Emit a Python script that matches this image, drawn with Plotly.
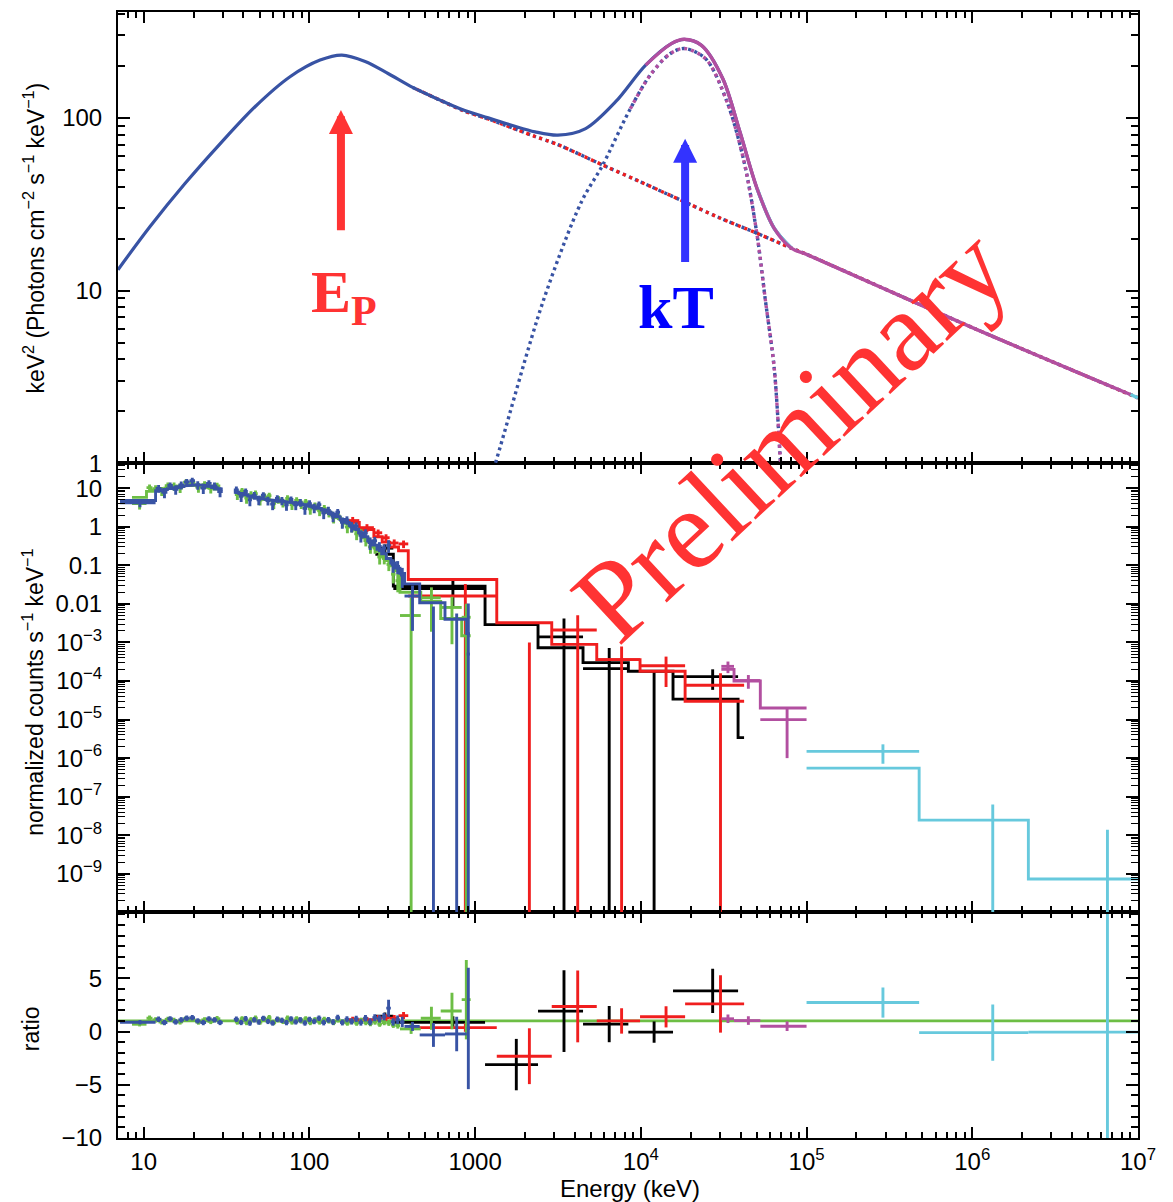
import math
import plotly.graph_objects as go

# ---------------------------------------------------------------------------
# Top panel: unfolded nuFnu model, keV^2 (photons cm^-2 s^-1 keV^-1)
# ---------------------------------------------------------------------------
model_kev = [7, 10.9, 17.7, 28.9, 47, 76.4, 116, 157, 217, 300, 420, 600, 850, 1200, 1700,
             2300, 3157, 4645, 7046, 10690, 15280, 18270, 23200, 31190, 39600, 50250, 63800,
             80900, 1.0e5, 1.0e6, 9.0e6, 1.0e7]
model_total = [13.2, 23.4, 41.5, 70.7, 116, 173, 216, 231, 212, 180, 150, 128, 111, 100, 90,
               83, 79.4, 86.7, 124, 202, 269, 285, 263, 169, 83, 39, 22.9, 17.6, 16.2, 6.1,
               2.5, 2.39]

# Band component (continues as the high-energy power law)
band_kev = [420, 600, 850, 1200, 1700, 2300, 3157, 5890, 10000, 18240, 30000, 50000, 80900,
            1.0e5, 1.0e6, 1.0e7]
band_vals = [150, 128, 110, 98.5, 87, 78, 70, 53.3, 42.5, 32.7, 26.3, 21.5, 17.6, 16.2, 6.1,
             2.39]

# thermal (blackbody) component
bb_kev = [1200, 1413, 2566, 4386, 5890, 8433, 11350, 15000, 18270, 24600, 33100, 41970,
          50250, 56600, 63800, 69700, 72000]
bb_vals = [0.72, 1.23, 8.6, 32.7, 53.3, 108, 176, 235, 252, 220, 124, 55.7, 21, 8.6, 3.56,
           1.0, 0.65]

EP_KEV = 155      # Band peak energy marker
KT_KEV = 18500    # blackbody peak marker

# ---------------------------------------------------------------------------
# Middle/bottom panels: folded counts (counts s^-1 keV^-1) per detector
# ---------------------------------------------------------------------------
# NaI detector (green)
nai_g_edges_low = [8.5, 10.4, 11.3, 12.3, 13.4, 14.6, 15.9, 17.3, 18.8, 20.5, 22.3, 24.3, 26.5, 29.0]
nai_g_model_low = [5.8, 8.3, 8.9, 9.5, 10.1, 10.8, 11.4, 11.9, 12.1, 11.9, 11.2, 10.4, 9.5]
nai_g_counts_low = [4.0, 10.4, 9.8, 8.55, 11.6, 11.3, 10.3, 14.3, 13.9, 10.7, 12.3, 9.9, 11.4]
nai_g_err_low = [1.2, 2.1, 2.2, 2.3, 2.5, 2.7, 2.8, 3.0, 3.0, 3.0, 2.8, 2.6, 2.4]
nai_g_edges_high = [35.5, 38, 40.5, 43, 45.8, 48.8, 52, 55.5, 59, 63, 67, 71.5, 76, 81, 86.5,
                    92, 98, 104.5, 111.5, 119, 127, 135.5, 144.5, 154, 164, 175, 186.5, 199,
                    212, 226, 241, 257, 274, 292, 311, 331, 352, 470, 620, 830, 940]
nai_g_model_high = [7.6, 7.05, 6.6, 6.15, 5.8, 5.5, 5.2, 4.95, 4.8, 4.65, 4.5, 4.35, 4.2, 4.0,
                    3.85, 3.65, 3.42, 3.17, 2.9, 2.62, 2.33, 2.04, 1.75, 1.48, 1.24, 1.02, 0.83,
                    0.66, 0.52, 0.40, 0.31, 0.235, 0.178, 0.133, 0.098, 0.072, 0.020, 0.0115,
                    0.0042, 0.0015]
nai_g_counts_high = [6.84, 8.46, 5.61, 6.77, 7.25, 4.95, 5.98, 6.44, 4.08, 5.12, 4.28, 5.44,
                     3.78, 4.8, 3.85, 4.38, 2.91, 3.49, 2.61, 3.01, 2.33, 1.73, 1.93, 1.33,
                     0.99, 0.97, 0.66, 0.69, 0.44, 0.30, 0.28, 0.165, 0.151, 0.106, 0.059,
                     0.040, 0.005, 0.0144, 0.0081, 0.0045]
nai_g_err_high = [1.9, 1.75, 1.65, 1.55, 1.45, 1.4, 1.3, 1.25, 1.2, 1.15, 1.1, 1.1, 1.05, 1.0,
                  0.95, 0.9, 0.85, 0.8, 0.72, 0.65, 0.58, 0.51, 0.44, 0.37, 0.31, 0.26, 0.21,
                  0.17, 0.13, 0.10, 0.08, 0.06, 0.045, 0.035, 0.025, 0.02, 0.0094, 0.0125,
                  0.0072, 0.0056]

# NaI detector (blue)
nai_b_edges_low = [7.2, 11.8, 12.8, 13.9, 15.0, 16.2, 17.5, 18.9, 20.4, 22.0, 23.8, 25.7, 27.8, 30.0]
nai_b_model_low = [4.8, 8.6, 9.2, 9.8, 10.4, 11.0, 11.6, 12.0, 12.2, 11.9, 11.2, 10.4, 9.6]
nai_b_counts_low = [4.2, 9.9, 7.8, 11.8, 9.4, 12.1, 14.5, 15.6, 12.2, 10.1, 13.4, 11.4, 8.2]
nai_b_err_low = [1.0, 2.2, 2.3, 2.4, 2.6, 2.8, 2.9, 3.0, 3.0, 3.0, 2.8, 2.6, 2.4]
nai_b_edges_high = [35, 37.5, 40, 42.5, 45, 48, 51, 54.5, 58, 62, 66, 70.5, 75, 80, 85.5, 91,
                    97, 103.5, 110.5, 118, 126, 134.5, 143.5, 153, 163, 174, 185.5, 198, 211,
                    225, 240, 256, 273, 291, 310, 330, 352, 375, 463, 658, 890, 930]
nai_b_model_high = [7.9, 7.3, 6.8, 6.3, 5.9, 5.6, 5.3, 5.05, 4.85, 4.7, 4.55, 4.4, 4.25, 4.1,
                    3.9, 3.72, 3.5, 3.25, 3.0, 2.72, 2.42, 2.12, 1.83, 1.55, 1.3, 1.07, 0.87,
                    0.70, 0.55, 0.43, 0.335, 0.26, 0.20, 0.15, 0.115, 0.085, 0.062, 0.033,
                    0.0107, 0.004, 0.0017]
nai_b_counts_high = [9.1, 6.2, 8.2, 5.0, 6.5, 5.0, 6.6, 4.8, 3.9, 5.4, 4.8, 3.7, 5.1, 3.7,
                     4.3, 3.0, 4.0, 3.1, 3.75, 2.3, 2.66, 1.9, 2.4, 1.32, 1.5, 1.02, 1.04,
                     0.6, 0.69, 0.39, 0.435, 0.31, 0.28, 0.33, 0.104, 0.094, 0.056, 0.016,
                     -0.0034, -0.0009, 0.0005]
nai_b_err_high = [2.0, 1.8, 1.7, 1.6, 1.5, 1.4, 1.3, 1.25, 1.2, 1.2, 1.15, 1.1, 1.05, 1.0,
                  1.0, 0.95, 0.9, 0.85, 0.78, 0.72, 0.65, 0.58, 0.5, 0.43, 0.37, 0.31, 0.26,
                  0.21, 0.17, 0.14, 0.11, 0.09, 0.07, 0.12, 0.04, 0.035, 0.03, 0.014, 0.012,
                  0.0065, 0.0097]

# BGO detector (black)
bgo_k_lo = [250, 321, 1148, 2397, 4479, 8409, 15640, 38620]
bgo_k_hi = [321, 1148, 2397, 4479, 8409, 15640, 38620, 41970]
bgo_k_model = [0.195, 0.029, 0.0029, 7.3e-4, 3.0e-4, 1.8e-4, 3.4e-5, 3.4e-6]
bgo_k_counts = [0.28, 0.025, -0.0090, 1.4e-3, 2.1e-4, -9e-6, 1.3e-4, None]
bgo_k_err = [0.07, 0.017, 0.0070, 2.8e-3, 5.1e-4, 1.8e-4, 7.1e-5, None]

# BGO detector (red)
bgo_r_lo = [165, 200, 245, 275, 305, 345, 395, 1351, 2900, 5420, 9890, 18500]
bgo_r_hi = [200, 245, 275, 305, 345, 395, 1351, 2900, 5420, 9890, 18500, 42000]
bgo_r_model = [1.3, 0.85, 0.55, 0.40, 0.30, 0.24, 0.043, 3.24e-3, 8.9e-4, 3.6e-4, 1.8e-4, 3.0e-5]
bgo_r_counts = [1.45, 0.95, 0.70, 0.52, 0.38, 0.36, 0.016, -7.5e-3, 2.1e-3, 3.6e-4, 2.5e-4, 7.8e-5]
bgo_r_err = [0.35, 0.22, 0.15, 0.12, 0.09, 0.08, 0.017, 8.5e-3, 3.0e-3, 4.3e-4, 1.8e-4, 8.1e-5]

# LAT low-energy events (magenta)
lle_lo = [30600, 36500, 52600]
lle_hi = [36500, 52600, 100000]
lle_model = [2.0e-4, 1.0e-4, 2.0e-5]
lle_counts = [2.4e-4, 1.03e-4, 1.0e-5]
lle_err = [0.8e-4, 0.4e-4, 0.9e-5]

# LAT (cyan)
lat_lo = [1.0e5, 4.78e5, 2.18e6]
lat_hi = [4.78e5, 2.18e6, 1.09e7]
lat_model = [5.5e-7, 2.46e-8, 7.3e-10]
lat_counts = [1.5e-6, -2.5e-9, -3.6e-11]
lat_err = [7.8e-7, 6.5e-8, 1.4e-8]

# axis tick labels
energy_ticks = [10, 100, 1000, 1e4, 1e5, 1e6, 1e7]
energy_ticktext = ["10", "100", "1000", "10<sup>4</sup>", "10<sup>5</sup>", "10<sup>6</sup>", "10<sup>7</sup>"]
nufnu_ticks = [1, 10, 100]
nufnu_ticktext = ["1", "10", "100"]
counts_ticks = [10, 1, 0.1, 0.01, 1e-3, 1e-4, 1e-5, 1e-6, 1e-7, 1e-8, 1e-9]
counts_ticktext = ["10", "1", "0.1", "0.01"] + ["10<sup>\u2212%d</sup>" % k for k in range(3, 10)]
ratio_ticks = [-10, -5, 0, 5]
ratio_ticktext = ["\u221210", "\u22125", "0", "5"]

# ---------------------------------------------------------------------------
BLACK = "#000000"
RED = "#F01E1E"
GREEN = "#6DBE45"
BLUE = "#3853A4"
MAGENTA = "#B24FA0"
CYAN = "#67C9DD"
NOTE_RED = "#FF3333"
NOTE_BLUE = "#3333FF"
SANS = "Liberation Sans, Arial, Helvetica, sans-serif"
SERIF = "Liberation Serif, Times New Roman, serif"

X_RANGE = [math.log10(7), 7]
LW = 2.9


def step_xy(lo, hi, mod):
    """Histogram outline of a binned model; gaps between bins break the line."""
    xs, ys = [], []
    for i, (l, h, m) in enumerate(zip(lo, hi, mod)):
        if i and l != hi[i - 1]:
            xs.append(None)
            ys.append(None)
        xs += [l, h]
        ys += [m, m]
    return xs, ys


def cross_xy(lo, hi, val, err, floor=None):
    """Data crosses: bin-width horizontal bar plus +/- error vertical bar."""
    xs, ys = [], []
    for l, h, v, e in zip(lo, hi, val, err):
        if v is None:
            continue
        xc = 0.5 * (l + h)
        top, bot = v + e, v - e
        if floor is not None:
            if v > 0:
                xs += [l, h, None]
                ys += [v, v, None]
            if top <= 0:
                continue
            if bot <= 0:
                bot = floor
        else:
            xs += [l, h, None]
            ys += [v, v, None]
        xs += [xc, xc, None]
        ys += [top, bot, None]
    return xs, ys


def bins(edges):
    return edges[:-1], edges[1:]


g_lo1, g_hi1 = bins(nai_g_edges_low)
g_lo2, g_hi2 = bins(nai_g_edges_high)
b_lo1, b_hi1 = bins(nai_b_edges_low)
b_lo2, b_hi2 = bins(nai_b_edges_high)

detectors = [
    dict(color=BLACK, lo=bgo_k_lo, hi=bgo_k_hi, model=bgo_k_model, counts=bgo_k_counts, err=bgo_k_err),
    dict(color=RED, lo=bgo_r_lo, hi=bgo_r_hi, model=bgo_r_model, counts=bgo_r_counts, err=bgo_r_err),
    dict(color=GREEN, lo=g_lo1 + g_lo2, hi=g_hi1 + g_hi2, model=nai_g_model_low + nai_g_model_high,
         counts=nai_g_counts_low + nai_g_counts_high, err=nai_g_err_low + nai_g_err_high),
    dict(color=BLUE, lo=b_lo1 + b_lo2, hi=b_hi1 + b_hi2, model=nai_b_model_low + nai_b_model_high,
         counts=nai_b_counts_low + nai_b_counts_high, err=nai_b_err_low + nai_b_err_high),
    dict(color=CYAN, lo=lat_lo, hi=lat_hi, model=lat_model, counts=lat_counts, err=lat_err),
    dict(color=MAGENTA, lo=lle_lo, hi=lle_hi, model=lle_model, counts=lle_counts, err=lle_err),
]

fig = go.Figure()

# ---------------- top panel ----------------
def add_top(x, y, color, width, dash=None):
    fig.add_trace(go.Scatter(x=x, y=y, mode="lines", xaxis="x3", yaxis="y3",
                             line=dict(color=color, width=width, dash=dash, shape="spline",
                                       smoothing=0.9),
                             hoverinfo="skip"))

# dotted components (two interleaved colours)
add_top(bb_kev, bb_vals, BLUE, 3.4, dash="3px,3.5px")
bb_hi = [(e, v) for e, v in zip(bb_kev, bb_vals) if e >= 8433]
add_top([p[0] for p in bb_hi], [p[1] for p in bb_hi], MAGENTA, 3.4, dash="0px,3.5px,3px,0.5px")
add_top(band_kev, band_vals, BLUE, 3.4, dash="3px,3.5px")
add_top(band_kev, band_vals, RED, 3.4, dash="0px,3.5px,3px,0.5px")

# total model, drawn per data group over its energy span
def total_between(lo, hi):
    pts = [(e, v) for e, v in zip(model_kev, model_total) if lo <= e <= hi]
    return [p[0] for p in pts], [p[1] for p in pts]

add_top(*total_between(7, 80900), BLUE, 3.2)
add_top(*total_between(50250, 80900), CYAN, 3.6)
add_top(*total_between(10690, 9.0e6), MAGENTA, 3.4)
add_top(*total_between(9.0e6, 1.0e7), CYAN, 3.4)

# ---------------- ratio reference line ----------------
fig.add_trace(go.Scatter(x=[7, 1e7], y=[1, 1], mode="lines", xaxis="x", yaxis="y",
                         line=dict(color=GREEN, width=LW), hoverinfo="skip"))

# ---------------- counts + ratio panels ----------------
for det in detectors:
    lo, hi, mod, cts, err, col = det["lo"], det["hi"], det["model"], det["counts"], det["err"], det["color"]
    sx, sy = step_xy(lo, hi, mod)
    fig.add_trace(go.Scatter(x=sx, y=sy, mode="lines", xaxis="x2", yaxis="y2",
                             line=dict(color=col, width=LW), hoverinfo="skip"))
    cx, cy = cross_xy(lo, hi, cts, err, floor=1e-13)
    fig.add_trace(go.Scatter(x=cx, y=cy, mode="lines", xaxis="x2", yaxis="y2",
                             line=dict(color=col, width=LW), hoverinfo="skip"))
    ratio = [None if c is None else c / m for c, m in zip(cts, mod)]
    rerr = [None if e is None else e / m for e, m in zip(err, mod)]
    rx, ry = cross_xy(lo, hi, ratio, rerr)
    fig.add_trace(go.Scatter(x=rx, y=ry, mode="lines", xaxis="x", yaxis="y",
                             line=dict(color=col, width=LW), hoverinfo="skip"))

# ---------------- axes ----------------
def log_minor(d0, d1):
    return [m * 10 ** d for d in range(d0, d1) for m in range(2, 10)]

frame = dict(showline=True, linewidth=2, linecolor="black", mirror="allticks",
             ticks="inside", tickwidth=2, tickcolor="black", showgrid=False, zeroline=False)
x_common = dict(frame, type="log", range=X_RANGE, ticklen=11, tickvals=energy_ticks,
                ticktext=energy_ticktext,
                minor=dict(ticks="inside", ticklen=6, tickwidth=1.6, tickcolor="black",
                           tickvals=[v for v in log_minor(0, 7) if v >= 7]))
tick_font = dict(family=SANS, size=24, color="black")
fig.update_layout(
    xaxis=dict(x_common, anchor="y", showticklabels=True, tickfont=tick_font,
               ticklabelstandoff=1),
    xaxis2=dict(x_common, anchor="y2", showticklabels=False),
    xaxis3=dict(x_common, anchor="y3", showticklabels=False),
    yaxis=dict(frame, domain=[0, 0.2004], range=[-10, 11.2], tickvals=ratio_ticks,
               ticktext=ratio_ticktext, ticklen=12, tickfont=tick_font, ticklabelstandoff=9,
               minor=dict(ticks="inside", ticklen=7, tickwidth=1.6, tickcolor="black",
                          tickvals=list(range(-10, 12)))),
    yaxis2=dict(frame, domain=[0.2004, 0.5993], type="log", range=[-10, 1.65],
                tickvals=counts_ticks, ticktext=counts_ticktext, ticklen=12,
                tickfont=tick_font, ticklabelstandoff=9,
                minor=dict(ticks="inside", ticklen=7, tickwidth=1.4, tickcolor="black",
                           tickvals=log_minor(-10, 2))),
    yaxis3=dict(frame, domain=[0.5993, 1.0], type="log", range=[0, 2.613],
                tickvals=nufnu_ticks, ticktext=nufnu_ticktext, ticklen=12,
                tickfont=tick_font, ticklabelstandoff=9,
                minor=dict(ticks="inside", ticklen=7, tickwidth=1.6, tickcolor="black",
                           tickvals=log_minor(0, 3))),
    width=1173, height=1202,
    margin=dict(l=118, r=35, t=10, b=64),
    paper_bgcolor="white", plot_bgcolor="white",
    showlegend=False, hovermode=False,
    font=dict(family=SANS, size=24, color="black"),
)

L = math.log10
title_font = dict(family=SANS, size=23, color="black")
annotations = [
    # axis titles
    dict(text="keV<sup>2</sup> (Photons cm<sup>\u22122</sup> s<sup>\u22121</sup> keV<sup>\u22121</sup>)",
         xref="paper", yref="paper", x=-0.0824, y=0.7996, xanchor="center", yanchor="middle",
         textangle=-90, showarrow=False, font=title_font),
    dict(text="normalized counts s<sup>\u22121</sup> keV<sup>\u22121</sup>",
         xref="paper", yref="paper", x=-0.0833, y=0.3954, xanchor="center", yanchor="middle",
         textangle=-90, showarrow=False, font=title_font),
    dict(text="ratio", xref="paper", yref="paper", x=-0.0853, y=0.0975, xanchor="center",
         yanchor="middle", textangle=-90, showarrow=False, font=title_font),
    dict(text="Energy (keV)", xref="paper", yref="paper", x=0.502, y=-0.0452,
         xanchor="center", yanchor="middle", showarrow=False,
         font=dict(family=SANS, size=24, color="black")),
    # peak-energy markers
    dict(text="", xref="x3", yref="y3", x=L(EP_KEV), y=2.046, axref="x3", ayref="y3",
         ax=L(EP_KEV), ay=1.341, showarrow=True, arrowhead=2, arrowsize=0.6, arrowwidth=8,
         arrowcolor=NOTE_RED, standoff=0, startstandoff=0),
    dict(text="<b>E<sub>P</sub></b>", xref="x3", yref="y3", x=2.209, y=0.965,
         xanchor="center", yanchor="middle", showarrow=False,
         font=dict(family=SERIF, size=60, color=NOTE_RED)),
    dict(text="", xref="x3", yref="y3", x=L(KT_KEV), y=1.879, axref="x3", ayref="y3",
         ax=L(KT_KEV), ay=1.156, showarrow=True, arrowhead=2, arrowsize=0.6, arrowwidth=8,
         arrowcolor=NOTE_BLUE, standoff=0, startstandoff=0),
    dict(text="<b>kT</b>", xref="x3", yref="y3", x=4.213, y=0.902, xanchor="center",
         yanchor="middle", showarrow=False, font=dict(family=SERIF, size=62, color="#0000FF")),
    # watermark
    dict(text="Preliminary", xref="paper", yref="paper", x=0.659, y=0.625, textangle=-43,
         xanchor="center", yanchor="middle", showarrow=False,
         font=dict(family=SERIF, size=115, color=NOTE_RED)),
]
fig.update_layout(annotations=annotations)

fig.write_html("out.html")
